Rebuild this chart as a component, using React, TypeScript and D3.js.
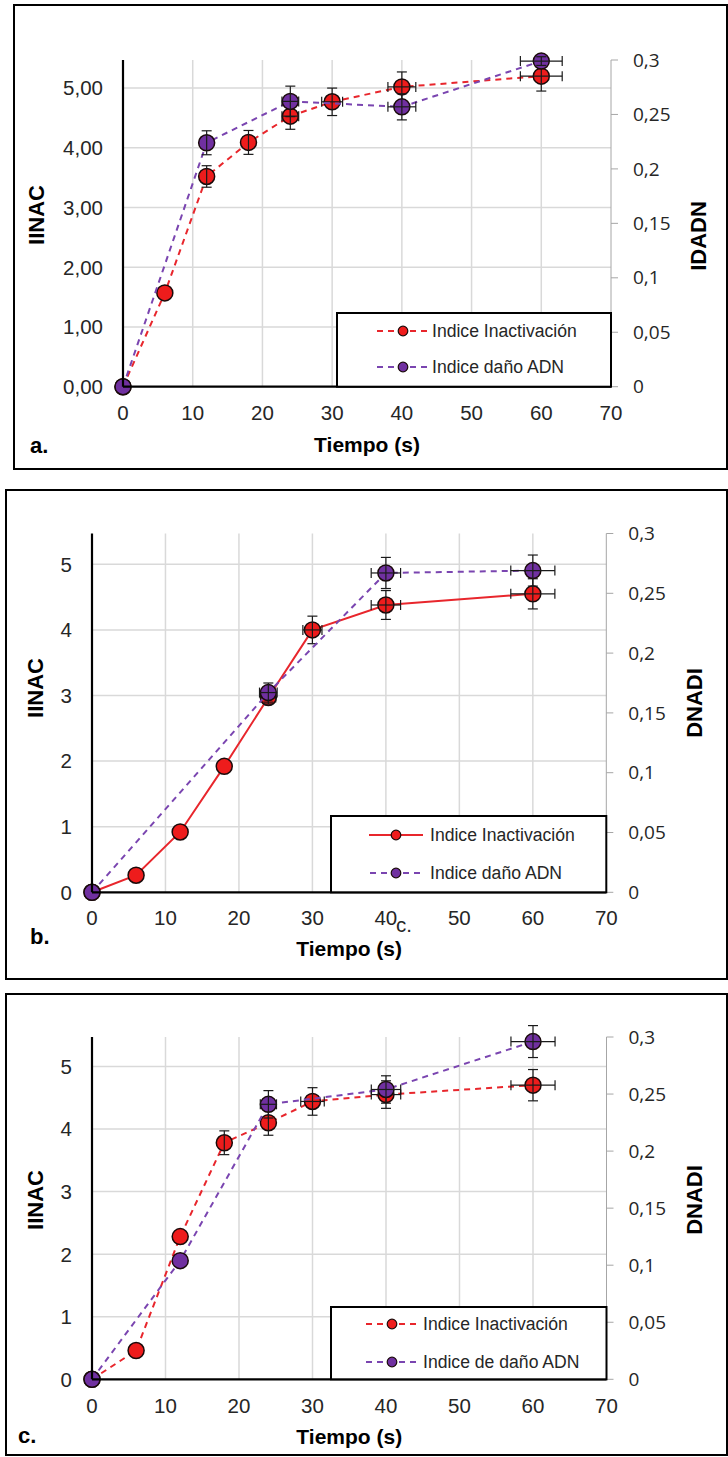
import React from "react";
import * as d3 from "d3";

// ---------- DATA ----------
const X_TICKS = [0, 10, 20, 30, 40, 50, 60, 70];
const LEFT_TICKS = [0, 1, 2, 3, 4, 5];
const RIGHT_TICKS = [0, 0.05, 0.1, 0.15, 0.2, 0.25, 0.3];

// Panel a
const A_INAC_T = [0, 6, 12, 18, 24, 30, 40, 60];
const A_INAC = [0, 1.57, 3.52, 4.09, 4.53, 4.77, 5.02, 5.2];
const A_INAC_YERR = [0, 0, 0.18, 0.2, 0.22, 0.23, 0.25, 0.25];
const A_INAC_XERR = [0, 0, 0, 0, 1.2, 1.5, 2, 3];
const A_DNA_T = [0, 12, 24, 40, 60];
const A_DNA = [0, 0.224, 0.262, 0.257, 0.299];
const A_DNA_YERR = [0, 0.011, 0.014, 0.012, 0.004];
const A_DNA_XERR = [0, 0, 1.2, 2, 3];

// Panel b
const B_INAC_T = [0, 6, 12, 18, 24, 30, 40, 60];
const B_INAC = [0, 0.26, 0.92, 1.92, 2.97, 4.0, 4.38, 4.55];
const B_INAC_YERR = [0, 0, 0, 0, 0.1, 0.21, 0.22, 0.23];
const B_INAC_XERR = [0, 0, 0, 0, 1.0, 1.3, 2, 3];
const B_DNA_T = [0, 24, 40, 60];
const B_DNA = [0, 0.167, 0.267, 0.269];
const B_DNA_YERR = [0, 0.008, 0.013, 0.013];
const B_DNA_XERR = [0, 1.2, 2, 3];

// Panel c
const C_INAC_T = [0, 6, 12, 18, 24, 30, 40, 60];
const C_INAC = [0, 0.46, 2.28, 3.78, 4.1, 4.44, 4.55, 4.7];
const C_INAC_YERR = [0, 0, 0, 0.19, 0.2, 0.22, 0.22, 0.25];
const C_INAC_XERR = [0, 0, 0, 0, 0, 1.6, 2, 3];
const C_DNA_T = [0, 12, 24, 40, 60];
const C_DNA = [0, 0.104, 0.241, 0.254, 0.296];
const C_DNA_YERR = [0, 0, 0.012, 0.012, 0.014];
const C_DNA_XERR = [0, 0, 1.1, 2, 3];

const LEG_INAC = "Indice Inactivación";
const LEG_DNA_AB = "Indice daño ADN";
const LEG_DNA_C = "Indice de daño ADN";

// ---------- STYLE ----------
const RED = "#ee1c1c";
const RED_LINE = "#e8262c";
const PURPLE = "#7030a0";
const PURPLE_LINE = "#7a45b0";
const GRID = "#d9d9d9";
const TXT = "#262626";
const ARIAL = "'Liberation Sans', Arial, sans-serif";
const CALIBRI = "'Open Sans', 'Noto Sans', sans-serif";
const LEFT_MAX = 5.47;

type Series = { t: number[]; v: number[]; ye: number[]; xe: number[] };

type Cfg = {
  frame: { x: number; y: number; w: number; h: number };
  px0: number; px1: number; py0: number; pyTop: number;
  leftFmt: (d: number) => string;
  leftTitle: { x: number; y: number };
  rightTitle: { text: string; x: number; y: number };
  xTitleY: number; xTickY: number;
  label: { text: string; x: number; y: number };
  legend: { x: number; y: number; mx: number; tx: number; l1: number; l2: number; dna: string; solidInac: boolean };
  inac: Series; dna: Series; solidInac: boolean;
};

const fmtRight = (d: number) => (d === 0 ? "0" : String(+d.toFixed(2)).replace(".", ","));

function ErrBars({ s, x, y, cap = 5 }: any) {
  return (
    <g stroke="#1a1a1a" strokeWidth={1.2} fill="none">
      {s.t.map((t: number, i: number) => {
        const cx = x(t), cy = y(s.v[i]);
        const out: any[] = [];
        if (s.ye[i] > 0) {
          const y1 = y(s.v[i] + s.ye[i]), y2 = y(s.v[i] - s.ye[i]);
          out.push(<line key="v" x1={cx} x2={cx} y1={y1} y2={y2} />);
          out.push(<line key="vt" x1={cx - cap} x2={cx + cap} y1={y1} y2={y1} />);
          out.push(<line key="vb" x1={cx - cap} x2={cx + cap} y1={y2} y2={y2} />);
        }
        if (s.xe[i] > 0) {
          const x1 = x(t - s.xe[i]), x2 = x(t + s.xe[i]);
          out.push(<line key="h" x1={x1} x2={x2} y1={cy} y2={cy} />);
          out.push(<line key="hl" x1={x1} x2={x1} y1={cy - cap} y2={cy + cap} />);
          out.push(<line key="hr" x1={x2} x2={x2} y1={cy - cap} y2={cy + cap} />);
        }
        return <g key={i}>{out}</g>;
      })}
    </g>
  );
}

function SeriesG({ s, x, y, color, lineColor, dashed }: any) {
  const line = d3.line<number>().x((_, i) => x(s.t[i])).y((d) => y(d));
  return (
    <g>
      <path d={line(s.v) || ""} fill="none" stroke={lineColor} strokeWidth={2} strokeDasharray={dashed ? "6 5" : undefined} />
      {s.t.map((t: number, i: number) => (
        <circle key={i} cx={x(t)} cy={y(s.v[i])} r={8} fill={color} stroke="#1a0a0a" strokeWidth={1.5} />
      ))}
      <ErrBars s={s} x={x} y={y} />
    </g>
  );
}

function Panel({ c }: { c: Cfg }) {
  const x = d3.scaleLinear().domain([0, 70]).range([c.px0, c.px1]);
  const yL = d3.scaleLinear().domain([0, LEFT_MAX]).range([c.py0, c.pyTop]);
  const yR = d3.scaleLinear().domain([0, 0.3]).range([c.py0, c.pyTop]);
  const L = c.legend;
  return (
    <g>
      <rect x={c.frame.x} y={c.frame.y} width={c.frame.w} height={c.frame.h} fill="#fff" stroke="#000" strokeWidth={2} />
      <g stroke={GRID} strokeWidth={1.5}>
        {X_TICKS.filter((t) => t > 0 && t < 70).map((t) => (
          <line key={"gx" + t} x1={x(t)} x2={x(t)} y1={c.pyTop} y2={c.py0} />
        ))}
        {LEFT_TICKS.filter((t) => t > 0).map((t) => (
          <line key={"gy" + t} x1={c.px0} x2={c.px1} y1={yL(t)} y2={yL(t)} />
        ))}
      </g>
      <line x1={c.px1} x2={c.px1} y1={c.pyTop} y2={c.py0} stroke="#a6a6a6" strokeWidth={1} />
      {RIGHT_TICKS.map((t) => (
        <g key={"rt" + t}>
          <line x1={c.px1} x2={c.px1 + 7} y1={yR(t)} y2={yR(t)} stroke="#a6a6a6" strokeWidth={1} />
          <text x={c.px1 + 22} y={yR(t)} dy="0.35em" fontFamily={CALIBRI} fontSize={19} fill={TXT}>
            {fmtRight(t)}
          </text>
        </g>
      ))}
      {LEFT_TICKS.map((t) => (
        <text key={"lt" + t} x={c.px0 - 20} y={yL(t)} dy="0.36em" textAnchor="end" fontFamily={ARIAL} fontSize={20.5} fill={TXT}>
          {c.leftFmt(t)}
        </text>
      ))}
      {X_TICKS.map((t) => (
        <text key={"xt" + t} x={x(t)} y={c.xTickY} textAnchor="middle" fontFamily={ARIAL} fontSize={20.5} fill={TXT}>
          {t}
        </text>
      ))}
      <SeriesG s={c.inac} x={x} y={yL} color={RED} lineColor={RED_LINE} dashed={!c.solidInac} />
      <SeriesG s={c.dna} x={x} y={yR} color={PURPLE} lineColor={PURPLE_LINE} dashed={true} />
      <line x1={c.px0} x2={c.px0} y1={c.pyTop} y2={c.py0} stroke="#000" strokeWidth={2.2} />
      <line x1={c.px0} x2={c.px1} y1={c.py0} y2={c.py0} stroke="#000" strokeWidth={2.2} />
      <rect x={L.x} y={L.y} width={c.px1 - L.x} height={c.py0 - L.y} fill="#fff" stroke="#000" strokeWidth={2} />
      <line x1={L.mx - 27} x2={L.mx + 27} y1={L.l1} y2={L.l1} stroke={RED_LINE} strokeWidth={2} strokeDasharray={L.solidInac ? undefined : "6 5"} strokeDashoffset={L.solidInac ? 0 : -1} />
      <circle cx={L.mx} cy={L.l1} r={4.8} fill={RED} stroke="#1a0a0a" strokeWidth={1.2} />
      <text x={L.tx} y={L.l1} dy="0.35em" fontFamily={ARIAL} fontSize={17.6} fill={TXT}>{LEG_INAC}</text>
      <line x1={L.mx - 27} x2={L.mx + 27} y1={L.l2} y2={L.l2} stroke={PURPLE_LINE} strokeWidth={2} strokeDasharray="6 5" strokeDashoffset={-1} />
      <circle cx={L.mx} cy={L.l2} r={4.8} fill={PURPLE} stroke="#1a0a0a" strokeWidth={1.2} />
      <text x={L.tx} y={L.l2} dy="0.35em" fontFamily={ARIAL} fontSize={17.6} fill={TXT}>{L.dna}</text>
      <text transform={`translate(${c.leftTitle.x},${c.leftTitle.y}) rotate(-90)`} textAnchor="middle" fontFamily={ARIAL} fontWeight="bold" fontSize={22} fill="#000">IINAC</text>
      <text transform={`translate(${c.rightTitle.x},${c.rightTitle.y}) rotate(-90)`} textAnchor="middle" fontFamily={ARIAL} fontWeight="bold" fontSize={22} fill="#000">{c.rightTitle.text}</text>
      <text x={(c.px0 + c.px1) / 2} y={c.xTitleY} textAnchor="middle" fontFamily={ARIAL} fontWeight="bold" fontSize={21} fill="#000">Tiempo (s)</text>
      <text x={c.label.x} y={c.label.y} fontFamily={ARIAL} fontWeight="bold" fontSize={22} fill="#000">{c.label.text}</text>
    </g>
  );
}

const f2 = (d: number) => d.toFixed(2).replace(".", ",");
const f0 = (d: number) => String(d);

const PANELS: Cfg[] = [
  {
    frame: { x: 14, y: 5, w: 713, h: 464 },
    px0: 123, px1: 611, py0: 386.7, pyTop: 60,
    leftFmt: f2,
    leftTitle: { x: 44, y: 215 },
    rightTitle: { text: "IDADN", x: 706, y: 236 },
    xTitleY: 452, xTickY: 420,
    label: { text: "a.", x: 30, y: 453 },
    legend: { x: 337, y: 313, mx: 403, tx: 432, l1: 331, l2: 367, dna: LEG_DNA_AB, solidInac: false },
    inac: { t: A_INAC_T, v: A_INAC, ye: A_INAC_YERR, xe: A_INAC_XERR },
    dna: { t: A_DNA_T, v: A_DNA, ye: A_DNA_YERR, xe: A_DNA_XERR },
    solidInac: false,
  },
  {
    frame: { x: 6, y: 490, w: 721, h: 489 },
    px0: 92, px1: 606.3, py0: 892.3, pyTop: 533.5,
    leftFmt: f0,
    leftTitle: { x: 43, y: 688 },
    rightTitle: { text: "DNADI", x: 702, y: 703 },
    xTitleY: 956, xTickY: 925,
    label: { text: "b.", x: 30, y: 944 },
    legend: { x: 331, y: 816, mx: 396, tx: 430, l1: 835, l2: 873, dna: LEG_DNA_AB, solidInac: true },
    inac: { t: B_INAC_T, v: B_INAC, ye: B_INAC_YERR, xe: B_INAC_XERR },
    dna: { t: B_DNA_T, v: B_DNA, ye: B_DNA_YERR, xe: B_DNA_XERR },
    solidInac: true,
  },
  {
    frame: { x: 6, y: 994, w: 721, h: 461 },
    px0: 92, px1: 606.5, py0: 1379.3, pyTop: 1037,
    leftFmt: f0,
    leftTitle: { x: 43, y: 1200 },
    rightTitle: { text: "DNADI", x: 702, y: 1200 },
    xTitleY: 1444, xTickY: 1413,
    label: { text: "c.", x: 18, y: 1443 },
    legend: { x: 331, y: 1307, mx: 392, tx: 423, l1: 1324, l2: 1362, dna: LEG_DNA_C, solidInac: false },
    inac: { t: C_INAC_T, v: C_INAC, ye: C_INAC_YERR, xe: C_INAC_XERR },
    dna: { t: C_DNA_T, v: C_DNA, ye: C_DNA_YERR, xe: C_DNA_XERR },
    solidInac: false,
  },
];

export default function App() {
  return (
    <svg width={728} height={1457} style={{ position: "absolute", left: 0, top: 0, background: "#fff" }}>
      <rect x={0} y={0} width={728} height={1457} fill="#fff" />
      {PANELS.map((p, i) => (
        <Panel key={i} c={p} />
      ))}
      <text x={396} y={932} fontFamily={ARIAL} fontSize={20.5} fill={TXT}>c.</text>
    </svg>
  );
}
